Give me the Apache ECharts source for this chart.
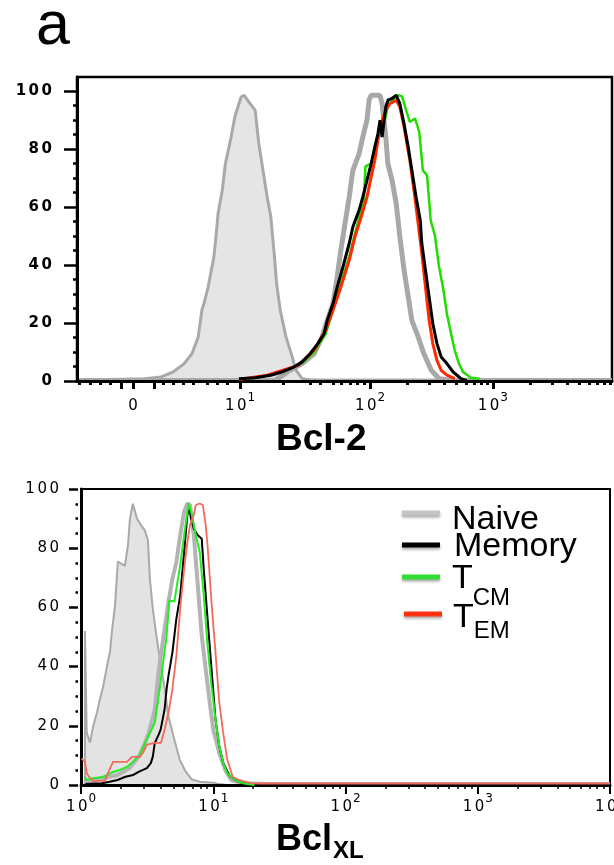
<!DOCTYPE html>
<html>
<head>
<meta charset="utf-8">
<script src="https://cdn.jsdelivr.net/npm/echarts@6/dist/echarts.min.js"></script>
<style>
  html, body { margin: 0; padding: 0; background: #fff; }
  #chart { width: 614px; height: 865px; }
</style>
</head>
<body>
<div id="chart"></div>
<script>
// ---- data ----------------------------------------------------------------
// top panel (Bcl-2): x = display channel (0..1024, biexponential scale), y = % of max
var topControl = [[0,0.3],[130,0.8],[161,1.4],[184,3.1],[205,6],[220,9.4],[232,15.2],[239,24.4],[243,26.7],[251,32.4],[262,42.8],[266,49.7],[270,57.7],[278,65.7],[284,74.9],[295,84.1],[302,91],[314,97.9],[320,98.5],[329,96.2],[341,93.3],[348,81.8],[356,72.6],[364,63.4],[371,56.6],[378,42.8],[382,33.6],[389,24.4],[400,15.2],[412,8.3],[418,4],[431,0.8],[446,0.4],[1024,0.3]];
var topNaive = [[0,0.2],[380,0.3],[408,3.7],[431,6],[454,9.4],[469,15.2],[479,20.9],[490,26.7],[498,35.9],[505,45.1],[513,54.3],[521,63.4],[528,72.6],[540,78.4],[547,84.1],[555,89.9],[559,96.8],[563,98.5],[580,98.5],[584,95.6],[591,84.1],[595,74.9],[603,69.2],[611,61.1],[618,49.7],[626,38.2],[634,29],[641,20.9],[653,15.2],[664,9.4],[678,3.7],[693,0.8],[720,0.2],[1024,0.2]];
var topMemory = [[310,0.8],[341,1.1],[371,2],[392,3.1],[415,4.8],[431,6.6],[446,9.4],[461,12.9],[473,16.3],[479,20.9],[490,26.7],[498,32.4],[509,39.3],[521,47.4],[528,53.1],[540,58.9],[547,63.4],[555,69.2],[563,74.9],[570,80.7],[576,85.3],[580,89.9],[584,84.1],[591,94.5],[595,96.8],[603,97.4],[611,98.5],[618,95.6],[626,88.7],[634,80.7],[641,72.6],[649,63.4],[657,55.4],[660,47.4],[667,38.2],[674,29],[681,19.8],[689,12.9],[697,8.3],[708,6],[720,3.1],[735,0.8],[746,0.2]];
var topTCM = [[333,0.8],[392,3.1],[431,6.2],[454,10],[476,16.3],[490,24.4],[505,33.6],[521,42.8],[532,50.8],[544,58.9],[549,61.1],[552,74],[563,74.9],[570,80.7],[580,86.4],[591,91],[595,95.1],[603,96.8],[614,98.5],[622,98.2],[630,93.3],[637,89.3],[647,90.5],[655,85.9],[662,72.6],[670,70.9],[677,55.4],[685,50.2],[693,39.3],[701,31.8],[708,23.2],[716,16.3],[723,10.6],[731,6],[739,3.1],[754,1.1],[771,0.8]];
var topTEM = [[310,0.5],[364,2],[423,5.4],[454,10.6],[476,17.5],[490,24.4],[505,32.4],[521,41.6],[532,49.7],[544,56.6],[555,63.4],[563,70.3],[570,76.1],[576,83],[584,89.9],[591,93.3],[599,95.6],[611,96.8],[618,94.5],[626,87.6],[637,76.1],[645,65.7],[653,54.3],[660,43.9],[667,32.4],[674,20.9],[681,12.9],[689,7.1],[697,3.7],[708,2],[723,0.8]];
var topXLabelPos = [107, 312, 561, 796];
var topXLabels = ['0', '10^1', '10^2', '10^3'];
var topXMajorTicks = [84, 107, 147, 312, 561, 796];
var topXMinorTicks = [4, 25, 44, 63, 165, 184, 203, 222, 249, 268, 287, 394, 446, 465, 490, 505, 523, 536, 549, 632, 674, 702, 725, 745, 760, 773, 785, 867, 909, 938, 961, 980, 995, 1009, 1020];

// bottom panel (BclXL): x = log10 fluorescence (decades), y = % of max
var botControl = [[0.03,0],[0.03,52],[0.043,17.7],[0.068,14.3],[0.091,19.7],[0.121,24.5],[0.143,29],[0.166,33],[0.196,40],[0.219,45],[0.234,52],[0.257,60.5],[0.279,75.5],[0.332,74],[0.355,81],[0.37,90],[0.392,95],[0.423,90],[0.453,87.8],[0.483,86],[0.506,82.7],[0.521,69.6],[0.543,59.5],[0.574,49.3],[0.604,40.2],[0.634,32.3],[0.661,23.2],[0.706,15.3],[0.747,8.5],[0.792,4.5],[0.838,1.9],[0.898,1.1],[1.004,0.8],[1.049,0.3],[1.1,0],[4,0]];
var botNaive = [[0.02,0.6],[0.053,0.6],[0.158,2.3],[0.276,3.4],[0.365,5.7],[0.438,9.6],[0.483,14.2],[0.513,17.6],[0.558,25.5],[0.589,39.1],[0.632,52.7],[0.661,61.7],[0.691,69.6],[0.721,75.3],[0.75,84.4],[0.78,92.3],[0.804,95.1],[0.824,94.6],[0.853,84.4],[0.883,67.4],[0.913,50.4],[0.943,39.1],[0.974,27.7],[1.0,18.7],[1.046,10.8],[1.091,5.1],[1.135,1.7],[1.223,0.6],[1.4,0.3],[4,0.3]];
var botMemory = [[0.034,0.3],[0.158,0.6],[0.217,1.1],[0.276,1.7],[0.336,2.8],[0.395,3.4],[0.439,4.5],[0.469,5.1],[0.498,5.7],[0.528,7.4],[0.543,9.6],[0.558,14.2],[0.587,17],[0.602,18.7],[0.632,25.5],[0.647,32.3],[0.661,36.8],[0.691,44.7],[0.721,56.1],[0.75,64],[0.78,78.7],[0.804,91.2],[0.818,93.4],[0.833,90],[0.853,86.6],[0.883,84.4],[0.913,83.2],[0.928,73],[0.957,56.1],[0.987,39.1],[1.017,22.1],[1.046,13],[1.075,7.4],[1.12,3.4],[1.165,1.7],[1.223,0.6],[1.342,0]];
var botTCM = [[0.03,2.7],[0.043,1.7],[0.091,2.3],[0.166,2.7],[0.242,4.4],[0.294,5.1],[0.347,6.1],[0.392,7.8],[0.445,10.2],[0.496,15.3],[0.525,18],[0.558,21],[0.587,30],[0.617,40.2],[0.647,50.4],[0.667,62.3],[0.706,62],[0.721,66.3],[0.75,74.2],[0.78,84.4],[0.804,92.3],[0.815,95.1],[0.838,91.2],[0.868,84.4],[0.898,78.7],[0.928,64],[0.957,47],[0.987,33.4],[1.017,22.1],[1.046,13],[1.075,7.4],[1.106,4],[1.165,1.7],[1.223,0.6],[1.313,0]];
var botTEM = [[0.004,9],[0.03,7.8],[0.043,4],[0.068,2.4],[0.091,1.4],[0.181,1.4],[0.204,4],[0.242,7.8],[0.347,7.8],[0.385,9.5],[0.445,9.5],[0.468,10.9],[0.498,13.6],[0.558,14.2],[0.604,14.2],[0.632,18.7],[0.661,24.3],[0.691,32.3],[0.721,43.6],[0.75,59.5],[0.78,73],[0.804,82],[0.824,87.8],[0.838,87.8],[0.853,91.2],[0.868,94.6],[0.898,95.1],[0.921,94.6],[0.943,87.8],[0.957,81],[0.987,61.7],[1.017,44.7],[1.046,27.7],[1.075,17.6],[1.106,8.5],[1.147,2.8],[1.192,1.7],[1.283,0.6],[1.343,0.5],[4,0.5]];
var botXLabels = ['10^0', '10^1', '10^2', '10^3', '10^4'];

var yMajor = [0, 20, 40, 60, 80, 100];
var yMinor = [5, 10, 15, 25, 30, 35, 45, 50, 55, 65, 70, 75, 85, 90, 95];

// ---- helpers -------------------------------------------------------------
// "10^2" -> rich text with a raised exponent
function powLabel(s) {
    var p = s.split('^');
    return p.length > 1 ? '{n|' + spaced(p[0]) + '}{s|' + p[1] + '}' : '{n|' + s + '}';
}
// the original tick font is very wide; open the digits up a little
function spaced(v) {
    return String(v).split('').join('\u2006');
}

var labelRich = {
    n: { fontFamily: 'DejaVu Sans', fontSize: 15, lineHeight: 22, color: '#000', verticalAlign: 'bottom' },
    s: { fontFamily: 'DejaVu Sans', fontSize: 12, lineHeight: 12, color: '#000', verticalAlign: 'top', padding: [0, 0, 0, 1] }
};

function line(name, data, color, width, xi, yi, z, area) {
    var s = {
        name: name, type: 'line', data: data, xAxisIndex: xi, yAxisIndex: yi,
        symbol: 'none', z: z, animation: false,
        lineStyle: { color: color, width: width },
        itemStyle: { color: color },
        emphasis: { disabled: true }
    };
    if (area) s.areaStyle = { color: area, opacity: 1 };
    return s;
}

var legendFont = 'Liberation Sans';
var chart = echarts.init(document.getElementById('chart'));

chart.setOption({
    animation: false,
    title: [
        { text: 'a', left: 36, top: -3, padding: 0,
          textStyle: { fontFamily: 'Liberation Sans', fontSize: 61, fontWeight: 'normal', color: '#000' } },
        { text: 'Bcl-2', left: 276, top: 421, padding: 0,
          textStyle: { fontFamily: 'Liberation Sans', fontSize: 37, fontWeight: 'bold', color: '#000' } },
        { text: '{b|Bcl}{s|XL}', left: 276, top: 822, padding: 0,
          textStyle: { rich: {
              b: { fontFamily: 'Liberation Sans', fontSize: 36, fontWeight: 'bold', lineHeight: 36, verticalAlign: 'top', color: '#000' },
              s: { fontFamily: 'Liberation Sans', fontSize: 24, fontWeight: 'bold', lineHeight: 24, verticalAlign: 'top', padding: [17, 0, 0, 1], color: '#000' }
          } } }
    ],
    legend: [
        { data: [{ name: 'Naive', itemStyle: { color: '#c4c4c4' } }], left: 402, top: 496 },
        { data: [{ name: 'Memory', itemStyle: { color: '#000' } }], left: 402, top: 528 },
        { data: [{ name: 'TCM', itemStyle: { color: '#33dd33' } }], left: 402, top: 560 },
        { data: [{ name: 'TEM', itemStyle: { color: '#ff3311' } }], left: 404, top: 597 }
    ].map(function (l) {
        return echarts.util.merge(l, {
            orient: 'vertical', padding: 0, icon: 'rect', itemWidth: 38, itemHeight: 5,
            selectedMode: false,
            itemStyle: { shadowBlur: 3, shadowColor: 'rgba(0,0,0,0.35)', shadowOffsetY: 2 },
            formatter: function (name) {
                if (name === 'TCM') return '{t1|T}{s1|CM}';
                if (name === 'TEM') return '{t2|T}{s2|EM}';
                if (name === 'Naive') return '{m1|Naive}';
                return '{m2|' + name + '}';
            },
            textStyle: { rich: {
                m1: { fontFamily: legendFont, fontSize: 34, lineHeight: 34, verticalAlign: 'top', padding: [7, 0, 0, 7], color: '#000' },
                m2: { fontFamily: legendFont, fontSize: 34, lineHeight: 34, verticalAlign: 'top', padding: [2, 0, 0, 9], color: '#000' },
                t1: { fontFamily: legendFont, fontSize: 34, lineHeight: 34, verticalAlign: 'top', padding: [2, 0, 0, 7], color: '#000' },
                s1: { fontFamily: legendFont, fontSize: 24, lineHeight: 24, verticalAlign: 'top', padding: [26, 0, 0, 0], color: '#000' },
                t2: { fontFamily: legendFont, fontSize: 34, lineHeight: 34, verticalAlign: 'top', padding: [4, 0, 0, 6], color: '#000' },
                s2: { fontFamily: legendFont, fontSize: 24, lineHeight: 24, verticalAlign: 'top', padding: [22, 0, 0, 0], color: '#000' }
            } }
        }, true);
    }),
    grid: [
        { left: 77, right: 2, top: 77, bottom: 484, outerBoundsMode: 'none',
          show: true, borderColor: '#000', borderWidth: 2.5, backgroundColor: '#fff' },
        { left: 81, right: 4, top: 489, bottom: 80, outerBoundsMode: 'none',
          show: true, borderColor: '#000', borderWidth: 2, backgroundColor: '#fff' }
    ],
    xAxis: [
        // top panel, major ticks + labels
        { type: 'value', gridIndex: 0, position: 'bottom', min: 0, max: 1024, z: 5,
          splitLine: { show: false },
          axisLine: { onZero: false, lineStyle: { color: '#000', width: 3 } },
          axisTick: { customValues: topXMajorTicks, length: 8, lineStyle: { color: '#000', width: 3 } },
          axisLabel: { customValues: topXLabelPos, margin: 11,
              formatter: function (v) {
                  var i = topXLabelPos.indexOf(v);
                  return i < 0 ? '' : powLabel(topXLabels[i]);
              },
              rich: labelRich } },
        // top panel, minor ticks
        { type: 'value', gridIndex: 0, position: 'bottom', min: 0, max: 1024, z: 5,
          splitLine: { show: false }, axisLine: { show: false, onZero: false }, axisLabel: { show: false },
          axisTick: { customValues: topXMinorTicks, length: 4, lineStyle: { color: '#000', width: 3 } } },
        // bottom panel, decades
        { type: 'value', gridIndex: 1, position: 'bottom', min: 0, max: 4, interval: 1, z: 5,
          splitLine: { show: false },
          axisLine: { onZero: false, lineStyle: { color: '#000', width: 3 } },
          axisTick: { length: 9, lineStyle: { color: '#000', width: 2 } },
          axisLabel: { margin: 8, showMinLabel: true, showMaxLabel: true,
              formatter: function (v) { return powLabel(botXLabels[Math.round(v)]); },
              rich: labelRich } },
        // bottom panel, 2..9 within each decade
        { type: 'value', gridIndex: 1, position: 'bottom', min: 0, max: 4, z: 5,
          splitLine: { show: false }, axisLine: { show: false, onZero: false }, axisLabel: { show: false },
          axisTick: { customValues: [0, 1, 2, 3].reduce(function (a, d) {
                  for (var k = 2; k <= 9; k++) a.push(d + Math.log10(k));
                  return a;
              }, []),
              length: 4, lineStyle: { color: '#000', width: 1.5 } } }
    ],
    yAxis: [
        // top panel
        { type: 'value', gridIndex: 0, position: 'left', min: 0, max: 104.8, z: 5,
          splitLine: { show: false },
          axisLine: { onZero: false, lineStyle: { color: '#000', width: 3 } },
          axisTick: { customValues: yMajor, length: 13, lineStyle: { color: '#000', width: 2.5 } },
          axisLabel: { customValues: yMajor, margin: 25, formatter: spaced,
              fontFamily: 'DejaVu Sans', fontWeight: 'bold', fontSize: 15, color: '#000' } },
        { type: 'value', gridIndex: 0, position: 'left', min: 0, max: 104.8, z: 5,
          splitLine: { show: false }, axisLine: { show: false, onZero: false }, axisLabel: { show: false },
          axisTick: { customValues: yMinor, length: 4, lineStyle: { color: '#000', width: 2.5 } } },
        // bottom panel: box line
        { type: 'value', gridIndex: 1, position: 'left', min: 0, max: 100, z: 5,
          splitLine: { show: false },
          axisLine: { onZero: false, lineStyle: { color: '#000', width: 3 } },
          axisTick: { show: false }, axisLabel: { show: false } },
        // bottom panel: ticks and labels, set off from the box
        { type: 'value', gridIndex: 1, position: 'left', min: 0, max: 100, interval: 20, offset: 3, z: 5,
          splitLine: { show: false }, axisLine: { show: false, onZero: false },
          axisTick: { length: 9, lineStyle: { color: '#000', width: 2.5 } },
          minorTick: { show: true, splitNumber: 4, length: 2.5, lineStyle: { color: '#000', width: 2.5 } },
          axisLabel: { margin: 19, formatter: spaced,
              fontFamily: 'DejaVu Sans', fontSize: 15, color: '#000' } }
    ],
    series: [
        line('Control', topControl, '#a9a9a9', 3, 0, 0, 2, '#e5e5e5'),
        line('Naive', topNaive, '#a8a8a8', 5, 0, 0, 3),
        line('TCM', topTCM, '#22dd00', 2.5, 0, 0, 4),
        line('TEM', topTEM, '#ff2a00', 3, 0, 0, 5),
        line('Memory', topMemory, '#000', 3, 0, 0, 6),

        line('Control', botControl, '#a9a9a9', 2, 2, 2, 2, '#e3e3e3'),
        line('Naive', botNaive, '#b4b4b4', 4, 2, 2, 3),
        line('Memory', botMemory, '#000', 2, 2, 2, 4),
        line('TCM', botTCM, '#22ee22', 2, 2, 2, 5),
        line('TEM', botTEM, '#f26a5e', 1.8, 2, 2, 6)
    ]
});
</script>
</body>
</html>
